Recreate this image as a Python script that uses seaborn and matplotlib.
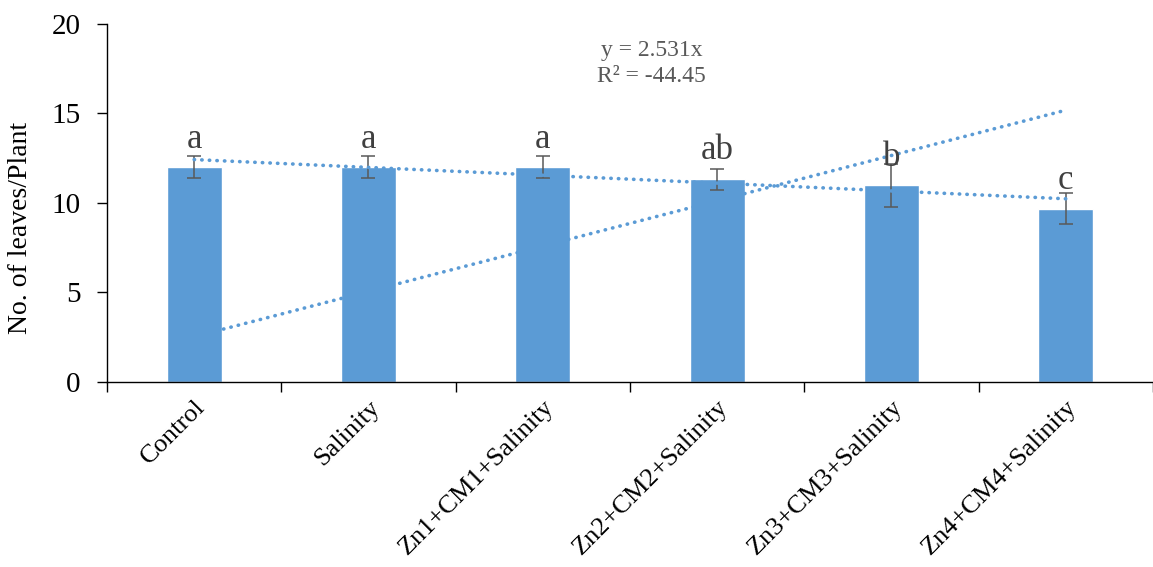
import numpy as np
import pandas as pd
import matplotlib
matplotlib.use("Agg")
import matplotlib.pyplot as plt
import seaborn as sns

# Treatments and measured number of leaves per plant
treatments = ["Control", "Salinity", "Zn1+CM1+Salinity", "Zn2+CM2+Salinity",
              "Zn3+CM3+Salinity", "Zn4+CM4+Salinity"]
leaves_mean = [12.0, 12.0, 12.0, 11.32, 10.98, 9.68]
leaves_sd = [0.6, 0.6, 0.6, 0.6, 1.2, 0.87]
letters = ["a", "a", "a", "ab", "b", "c"]
letter_pad = [0.45, 0.45, 0.45, 0.55, -0.1, 0.25]

# Trendline through origin shown with its equation
slope_origin = 2.531
r_squared = -44.45

sns.set_style("white")
plt.rcParams["font.family"] = ["Liberation Serif", "DejaVu Serif"]

bar_color = "#5B9BD5"
text_gray = "#404040"

fig = plt.figure(figsize=(11.53, 5.67), dpi=100)
ax = fig.add_axes([0.0928, 0.3263, 0.9072, 0.6314])

df = pd.DataFrame({"Treatment": treatments, "Leaves": leaves_mean})
sns.barplot(data=df, x="Treatment", y="Leaves", color=bar_color, saturation=1,
            width=0.315, errorbar=None, ax=ax, zorder=2)

pos = np.arange(len(treatments))
ax.errorbar(pos, leaves_mean, yerr=leaves_sd, fmt="none", ecolor="#595959",
            elinewidth=1.1, capsize=5, capthick=1.1, zorder=3)

for xi, m, s, lab, p in zip(pos, leaves_mean, leaves_sd, letters, letter_pad):
    ax.text(xi, m + s + p, lab, ha="center", va="baseline", fontsize=25,
            color=text_gray, zorder=4)

# Linear trend of the means
xv = pos + 1
coef = np.polyfit(xv, leaves_mean, 1)
dot_style = dict(color=bar_color, lw=2.6, linestyle=(0, (0.1, 2.0)),
                 dash_capstyle="round", zorder=3)
ax.plot(pos, np.polyval(coef, xv), **dot_style)
# Trend forced through the origin
ax.plot(pos, slope_origin * xv, **dot_style)

ax.text(0.5205, 0.955, f"y = {slope_origin}x\nR² = {r_squared}",
        transform=ax.transAxes, ha="center", va="top", fontsize=17,
        color="#595959", linespacing=1.3)

ax.set_xlim(-0.5, len(treatments) - 0.5)
ax.set_ylim(0, 20)
ax.set_yticks([0, 5, 10, 15, 20])
ax.tick_params(axis="y", labelsize=21, length=7, width=1, pad=12,
               direction="out", left=True, color="black", labelcolor="black")
ax.set_xticks(pos)
ax.set_xticklabels(treatments, rotation=45, ha="right", va="top",
                   rotation_mode="anchor", fontsize=19)
ax.tick_params(axis="x", which="major", length=0, pad=10, labelcolor="black")
ax.set_xticks(np.arange(len(treatments) + 1) - 0.5, minor=True)
ax.tick_params(axis="x", which="minor", length=7, width=1, direction="out",
               bottom=True, color="black")

ax.set_xlabel("")
ax.set_ylabel("No. of leaves/Plant", fontsize=20, color="black")
ax.yaxis.set_label_coords(-0.071, 0.43)

for side in ["top", "right"]:
    ax.spines[side].set_visible(False)
for side in ["left", "bottom"]:
    ax.spines[side].set_color("black")
    ax.spines[side].set_linewidth(1)

fig.savefig("out.png", dpi=100)
